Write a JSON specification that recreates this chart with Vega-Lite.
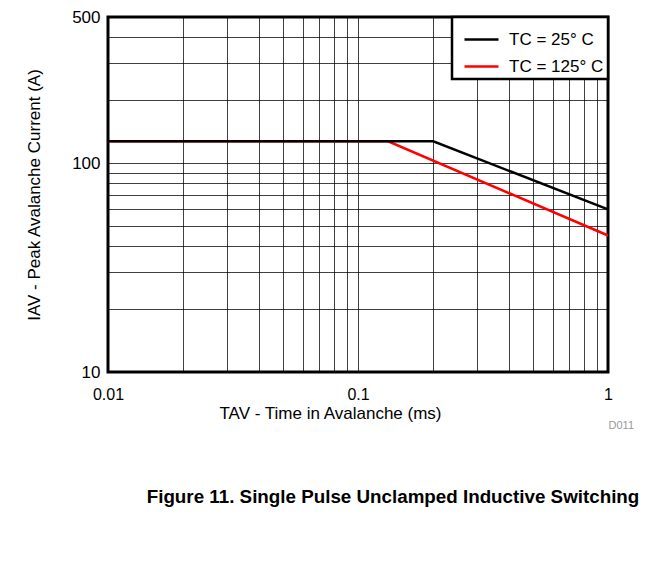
{
  "$schema": "https://vega.github.io/schema/vega-lite/v6.json",
  "width": 500,
  "height": 355,
  "autosize": {"type": "none"},
  "padding": {"left": 108, "top": 17, "right": 63, "bottom": 190},
  "background": "white",
  "title": {
    "text": "Figure 11. Single Pulse Unclamped Inductive Switching",
    "orient": "bottom",
    "anchor": "middle",
    "frame": "group",
    "offset": 57,
    "dx": 35,
    "fontSize": 18.8,
    "fontWeight": "bold",
    "font": "Liberation Sans",
    "color": "black"
  },
  "config": {
    "font": "Liberation Sans",
    "view": {"stroke": "black", "strokeWidth": 3},
    "axis": {
      "labelFont": "Liberation Sans",
      "titleFont": "Liberation Sans",
      "labelFontSize": 17,
      "titleFontSize": 17,
      "titleFontWeight": "normal",
      "labelColor": "black",
      "titleColor": "black",
      "domain": false,
      "ticks": false,
      "gridColor": "black",
      "gridWidth": 1,
      "gridOpacity": 0.75,
      "labelOverlap": false,
      "labelBound": false,
      "labelFlush": false
    }
  },
  "data": {
    "values": [
      {"series": "TC = 25° C", "t": 0.01, "i": 127},
      {"series": "TC = 25° C", "t": 0.2, "i": 127},
      {"series": "TC = 25° C", "t": 1, "i": 60},
      {"series": "TC = 125° C", "t": 0.01, "i": 127},
      {"series": "TC = 125° C", "t": 0.132, "i": 127},
      {"series": "TC = 125° C", "t": 1, "i": 45}
    ]
  },
  "encoding": {
    "x": {
      "field": "t",
      "type": "quantitative",
      "scale": {"type": "log", "domain": [0.01, 1], "nice": false},
      "axis": {
        "title": "TAV - Time in Avalanche (ms)",
        "values": [0.01, 0.02, 0.03, 0.04, 0.05, 0.06, 0.07, 0.08, 0.09, 0.1, 0.2, 0.3, 0.4, 0.5, 0.6, 0.7, 0.8, 0.9, 1],
        "format": "~g",
        "labelExpr": "indexof([0.01, 0.1, 1], datum.value) >= 0 ? datum.label : ''",
        "labelFontSize": 16,
        "labelPadding": 14,
        "titlePadding": 3,
        "titleX": 222
      }
    },
    "y": {
      "field": "i",
      "type": "quantitative",
      "scale": {"type": "log", "domain": [10, 500], "nice": false},
      "axis": {
        "title": "IAV - Peak Avalanche Current (A)",
        "values": [10, 20, 30, 40, 50, 60, 70, 80, 90, 100, 200, 300, 400, 500],
        "format": "~g",
        "labelExpr": "indexof([10, 100, 500], datum.value) >= 0 ? datum.label : ''",
        "labelPadding": 8,
        "titlePadding": 28
      }
    }
  },
  "layer": [
    {
      "transform": [{"filter": "datum.series == 'TC = 125° C'"}],
      "mark": {"type": "line", "strokeWidth": 2.5},
      "encoding": {
        "color": {
          "field": "series",
          "type": "nominal",
          "scale": {"domain": ["TC = 25° C", "TC = 125° C"], "range": ["black", "#ff0000"]},
          "legend": {
            "title": null,
            "orient": "top-right",
            "offset": 0,
            "strokeColor": "black",
            "fillColor": "white",
            "padding": 4,
            "symbolType": "stroke",
            "symbolSize": 1156,
            "symbolStrokeWidth": 2.5,
            "symbolOffset": 7,
            "labelFontSize": 17,
            "labelFont": "Liberation Sans",
            "labelColor": "black",
            "labelOffset": 9,
            "rowPadding": -13,
            "encode": {"legend": {"update": {"strokeWidth": {"value": 2.5}}}}
          }
        }
      }
    },
    {
      "transform": [{"filter": "datum.series == 'TC = 25° C'"}],
      "mark": {"type": "line", "strokeWidth": 2.5},
      "encoding": {
        "color": {"field": "series", "type": "nominal"}
      }
    },
    {
      "data": {"values": [{"label": "D011", "t": 1, "i": 10}]},
      "mark": {"type": "text", "align": "right", "baseline": "middle", "dx": 26, "dy": 54, "fontSize": 11, "color": "#999999", "font": "Liberation Sans"},
      "encoding": {
        "text": {"field": "label"}
      }
    }
  ]
}
